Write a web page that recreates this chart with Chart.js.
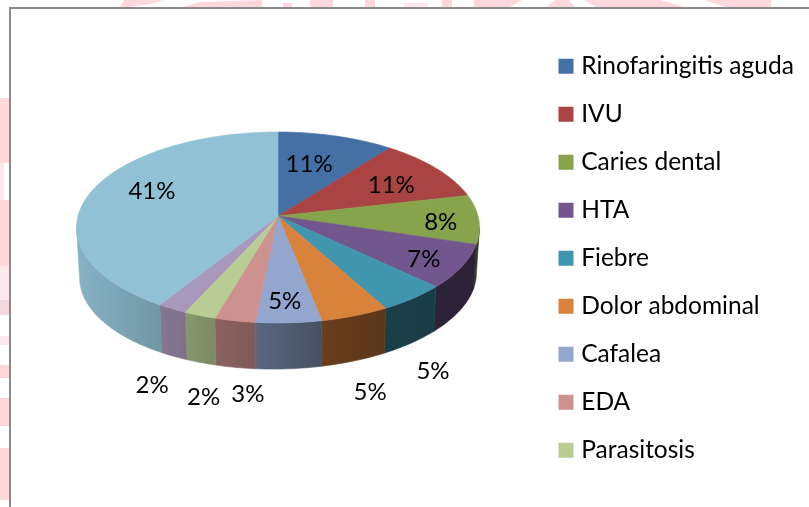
<!DOCTYPE html>
<html>
<head>
<meta charset="utf-8">
<style>
html,body{margin:0;padding:0;background:#fff;width:809px;height:507px;overflow:hidden}
#wm{position:absolute;left:0;top:0}
#frame{position:absolute;left:9px;top:7px;width:810px;height:510px;background:#fff;border-left:2px solid #8a8a8a;border-top:2px solid #8a8a8a}
#c{position:absolute;left:0;top:0}
</style>
<script src="https://cdn.jsdelivr.net/npm/chart.js@4"></script>
</head>
<body>
<svg id="wm" width="809" height="507" aria-hidden="true">
<g fill="#ffd8dc">
<path d="M120 7L124 0H165L150 4L130 7Z"/><path d="M183 7L200 2L262 0V7Z"/><rect x="283" y="3" width="9" height="4"/>
<rect x="310" y="0" width="23" height="7"/><rect x="365" y="0" width="10" height="7"/>
<rect x="404" y="3" width="24" height="4" fill="#ffe6e9"/><rect x="442" y="0" width="10" height="7"/>
<path d="M474 0H522L510 7H474Z"/><path d="M547 7L555 0H569L575 7Z"/><path d="M584 0H660L684 7H596Z"/><path d="M704 0H771V7H725Z"/>
<rect x="0" y="98" width="9" height="65"/><rect x="0" y="200" width="9" height="66"/>
<rect x="0" y="365" width="9" height="13"/><rect x="0" y="398" width="9" height="28"/><rect x="0" y="448" width="9" height="52"/>
</g>
<g fill="#ffe8ec"><rect x="0" y="163" width="4" height="37"/><rect x="0" y="266" width="9" height="34"/><rect x="0" y="336" width="9" height="9"/></g>
<rect x="0" y="300" width="9" height="15" fill="#f5d8dd"/>
</svg>
<div id="frame"></div>
<canvas id="c" width="809" height="507"></canvas>
<script>
const categories = ["Rinofaringitis aguda","IVU","Caries dental","HTA","Fiebre","Dolor abdominal","Cafalea","EDA","Parasitosis"];
const sliceValues = [10.5,10.9,8.3,7.4,4.9,4.9,4.7,2.9,2.3,2.1,41.1];
const sliceColors = ["#4470a6","#a94442","#87a44d","#71578e","#4096ae","#d9823c","#92a6ce","#cd918f","#b8cc94","#a898bb","#91c1d4"];

/* presentation: perspective of the tilted disc and wall */
const view = {cx:278, cy:216, rx:200, ry:94.1, persp:-0.1204, midY:227.5, wallScale:0.985, wallDrop:47.5, wallTilt:-0.012, visFrom:97, visTo:263};
const wallShade = [[76,.93],[160,.78],[186,.74],[214,.68],[255,.62],[322,.48],[385,.42],[437,.40],[480,.38]];
const labelNudge = [[-27,28],[-45,17],[-38,3],[-38,-7],[20,73],[15,77],[-4,-22],[13,74],[4,82],[-20,77],[60,0]];
const FONT = 'Lato, "Open Sans", sans-serif';
const LABEL_SIZE = 24;
const LEGEND_SIZE = 24.5;

function project(deg){
  const t = deg*Math.PI/180, u = Math.sin(t), v = -Math.cos(t), w = 1+view.persp*v;
  return {x:view.cx+view.rx*u/w, y:view.cy+view.ry*v/w};
}
function lower(p){
  return {x:view.cx+(p.x-view.cx)*view.wallScale,
          y:view.midY+(p.y-view.midY)*view.wallScale+view.wallDrop+(p.x-view.cx)*view.wallTilt};
}
function shade(hex,f){
  const n=parseInt(hex.slice(1),16);
  return `rgb(${Math.round((n>>16&255)*f)},${Math.round((n>>8&255)*f)},${Math.round((n&255)*f)})`;
}
function toDeg(a){return (a+Math.PI/2)*180/Math.PI;}

const disc3d = {
  id:'disc3d',
  beforeDatasetDraw(){return false;},
  afterDatasetsDraw(chart){
    const ctx = chart.ctx, arcs = chart.getDatasetMeta(0).data, colors = chart.data.datasets[0].backgroundColor;
    const first = view.cx-202, span = 404;
    ctx.save();
    ctx.lineJoin='round';
    arcs.forEach((arc,i)=>{
      const a = Math.max(toDeg(arc.startAngle),view.visFrom), b = Math.min(toDeg(arc.endAngle),view.visTo);
      if(b<=a) return;
      const top=[]; for(let d=a;d<b;d+=1) top.push(project(d)); top.push(project(b));
      const g = ctx.createLinearGradient(first,0,first+span,0);
      wallShade.forEach(s=>g.addColorStop(Math.min(1,Math.max(0,(s[0]-first)/span)),shade(colors[i],s[1])));
      ctx.beginPath();
      top.forEach((p,k)=>k?ctx.lineTo(p.x,p.y):ctx.moveTo(p.x,p.y));
      top.slice().reverse().forEach(p=>{const q=lower(p);ctx.lineTo(q.x,q.y);});
      ctx.closePath();
      ctx.fillStyle=g;ctx.strokeStyle=g;ctx.lineWidth=.6;ctx.fill();ctx.stroke();
    });
    arcs.forEach((arc,i)=>{
      const a=toDeg(arc.startAngle), b=toDeg(arc.endAngle);
      ctx.beginPath();ctx.moveTo(view.cx,view.cy);
      for(let d=a;d<b;d+=1){const p=project(d);ctx.lineTo(p.x,p.y);}
      const e=project(b);ctx.lineTo(e.x,e.y);ctx.closePath();
      ctx.fillStyle=colors[i];ctx.strokeStyle=colors[i];ctx.lineWidth=.6;ctx.fill();ctx.stroke();
    });
    const total = sliceValues.reduce((s,v)=>s+v,0);
    ctx.fillStyle='#000';ctx.font=`${LABEL_SIZE}px ${FONT}`;ctx.textAlign='center';ctx.textBaseline='middle';
    arcs.forEach((arc,i)=>{
      const p=project((toDeg(arc.startAngle)+toDeg(arc.endAngle))/2), n=labelNudge[i];
      ctx.fillText(Math.round(sliceValues[i]/total*100)+'%',p.x+n[0],p.y+n[1]);
    });
    ctx.restore();
  }
};
const legendPlace = {
  id:'legendPlace',
  afterLayout(chart){
    const l=chart.legend;
    const dx=563-l.left-l.options.labels.padding, dy=30.5-l.top;
    l.left+=dx;l.right+=dx;l.top+=dy;l.bottom+=dy;
  }
};
new Chart(document.getElementById('c'),{
  type:'pie',
  data:{labels:categories,datasets:[{data:sliceValues,backgroundColor:sliceColors,borderWidth:0}]},
  plugins:[disc3d,legendPlace],
  options:{
    responsive:false,animation:false,
    plugins:{
      tooltip:{enabled:false},
      legend:{
        position:'right',align:'start',
        labels:{
          color:'#000',boxWidth:6,boxHeight:6,padding:23.5,font:{family:FONT,size:LEGEND_SIZE},
          generateLabels(chart){
            return Chart.overrides.pie.plugins.legend.labels.generateLabels(chart).map(it=>({...it,lineWidth:9,strokeStyle:it.fillStyle}));
          }
        }
      }
    }
  }
});
</script>
</body>
</html>
